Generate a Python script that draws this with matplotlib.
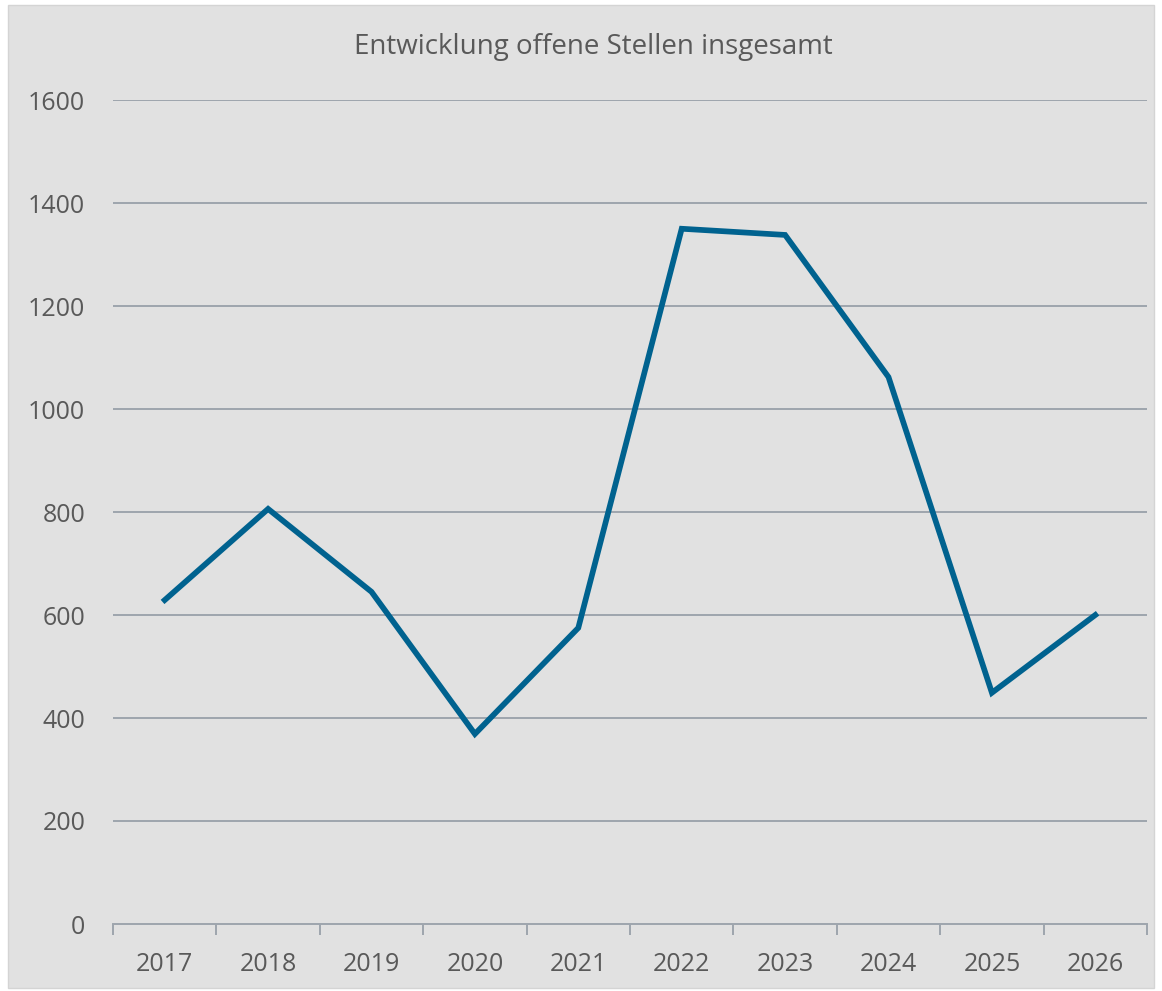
import matplotlib; matplotlib.use("Agg"); import matplotlib.pyplot as plt
from matplotlib.patches import Rectangle
import numpy as np

years = ["2017","2018","2019","2020","2021","2022","2023","2024","2025","2026"]
stellen = [629, 806, 645, 369, 575, 1350, 1338, 1062, 449, 600]

plt.rcParams['font.family'] = ['Open Sans', 'DejaVu Sans']
txt = "#595959"; grid = "#9EA5AD"; bg = "#E1E1E1"

fig = plt.figure(figsize=(11.62, 9.91), dpi=100, facecolor="white")
fig.patches.append(Rectangle((8/1162, 3/991), 1146/1162, 983/991, transform=fig.transFigure,
                             facecolor=bg, edgecolor="#D4D4D4", lw=1, zorder=-1))
ax = fig.add_axes([113/1162, 1-924/991, 1034/1162, 824/991])
ax.set_facecolor("none")

x = np.arange(len(years))
ax.plot(x, stellen, color="#00628F", lw=4.1, solid_joinstyle="miter", zorder=3)

ax.set_xlim(-0.5, len(years)-0.5); ax.set_ylim(0, 1600)
ax.set_yticks(range(0, 1601, 200))
for v in range(200, 1601, 200):
    ax.axhline(v, color=grid, lw=1.4, zorder=1)
ax.set_xticks(x); ax.set_xticklabels(years)
ax.set_xticks(np.arange(-0.5, len(years)), minor=True)
ax.tick_params(axis="x", which="major", length=0, pad=20, labelsize=18, labelcolor=txt)
ax.tick_params(axis="x", which="minor", length=8, width=1.4, color=grid, direction="out")
ax.tick_params(axis="y", length=0, pad=20, labelsize=18, labelcolor=txt)
for s in ["top", "right", "left"]: ax.spines[s].set_visible(False)
ax.spines["bottom"].set_color(grid); ax.spines["bottom"].set_linewidth(1.4)

fig.text(593/1162, 1-47/991, "Entwicklung offene Stellen insgesamt", ha="center", va="center",
         fontsize=20, color=txt)
fig.savefig("out.png", dpi=100)
